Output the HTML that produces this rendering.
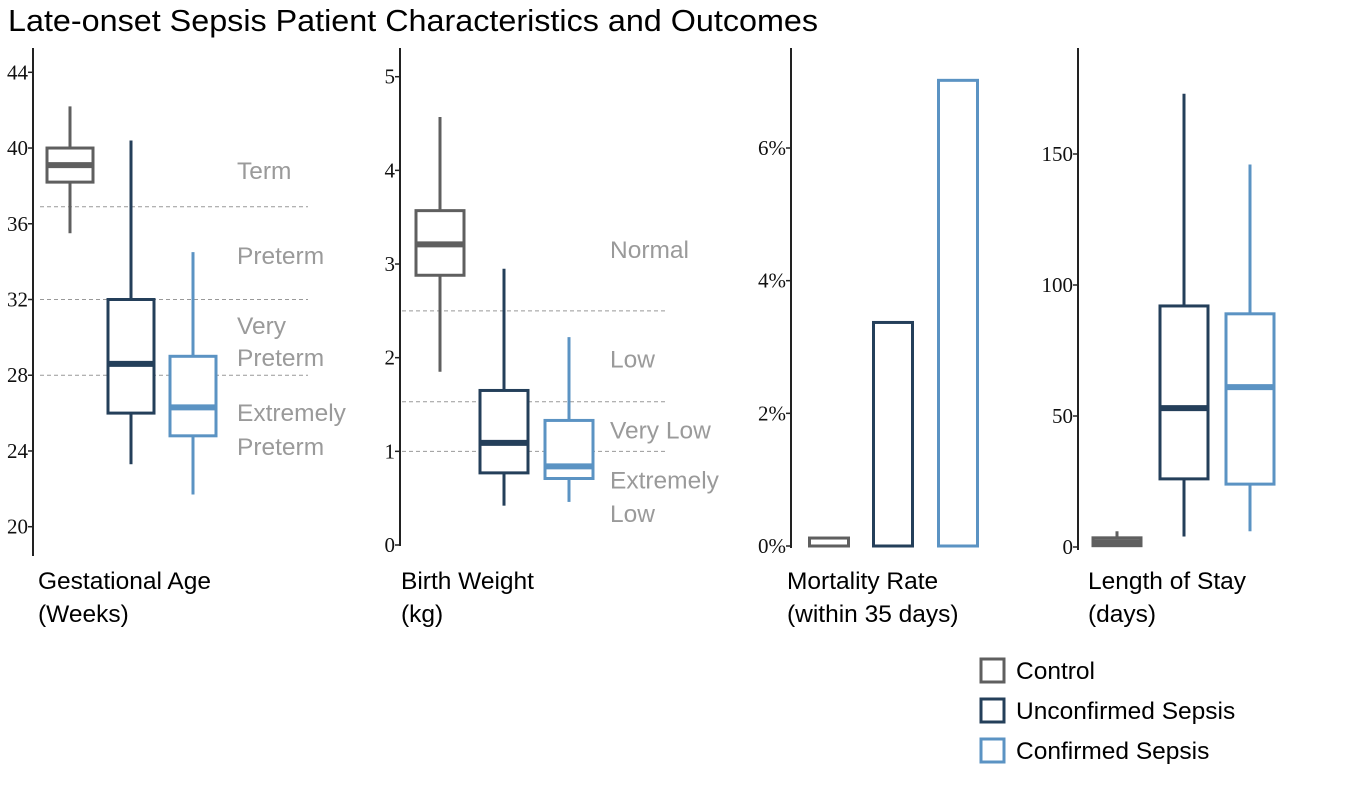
<!DOCTYPE html>
<html><head><meta charset="utf-8"><style>
body{margin:0;background:#fff;}
svg{display:block;font-family:"Liberation Sans",sans-serif;}
.tk{font-family:"Liberation Serif",serif;font-size:21px;fill:#111;}
.zone{font-size:24.5px;fill:#9a9a9a;}
.xt{font-size:24.5px;fill:#000;}
</style></head><body>
<svg id="c" width="1346" height="789">
<text x="8" y="31" font-size="31" fill="#000" textLength="810" lengthAdjust="spacingAndGlyphs">Late-onset Sepsis Patient Characteristics and Outcomes</text>
</svg>
<script>
const groups=["Control","Unconfirmed Sepsis","Confirmed Sepsis"];
const colors=["#5f5f5f","#243f5a","#5b93c3"];
// [whiskerLow, Q1, median, Q3, whiskerHigh]
const gaStats=[[35.5,38.2,39.1,40,42.2],[23.3,26,28.6,32,40.4],[21.7,24.8,26.3,29,34.5]];
const gaTicks=[20,24,28,32,36,40,44];
const gaCuts=[36.9,32,28];
const gaZones=[["Term",38.8],["Preterm",34.3],["Very",30.6],["Preterm",28.9],["Extremely",26.0],["Preterm",24.2]];
const bwStats=[[1.85,2.88,3.21,3.57,4.57],[0.42,0.77,1.09,1.65,2.95],[0.46,0.71,0.84,1.33,2.22]];
const bwTicks=[0,1,2,3,4,5];
const bwCuts=[2.5,1.53,1.0];
const bwZones=[["Normal",3.15],["Low",1.98],["Very Low",1.22],["Extremely",0.69],["Low",0.33]];
const mortality=[0.12,3.37,7.02];
const mortTicks=[0,2,4,6];
const losStats=[[0,0.5,1.8,3.5,6],[4,26,53,92,173],[6,24,61,89,146]];
const losTicks=[0,50,100,150];

const svg=document.getElementById('c');
const NS="http://www.w3.org/2000/svg";
function mk(tag,attrs,name){const e=document.createElementNS(NS,tag);for(const k in attrs)e.setAttribute(k,attrs[k]);


svg.appendChild(e);return e;}
function lin(d0,d1,r0,r1){return v=>r0+(v-d0)*(r1-r0)/(d1-d0);}

function axis(x,yTop,yBot,ticks,y,fmt,name){
  mk('line',{x1:x,y1:yTop,x2:x,y2:yBot,stroke:'#222','stroke-width':2},name+'-axis-line');
  ticks.forEach(t=>{
    mk('line',{x1:x-5,y1:y(t),x2:x,y2:y(t),stroke:'#222','stroke-width':1.5},name+'-tick');
    const tx=mk('text',{x:x-5,y:y(t)+7,'text-anchor':'end',class:'tk'},name+'-tick-label');tx.textContent=fmt(t);
  });
}
function boxes(stats,centers,hw,y,name){
  stats.forEach((s,i)=>{
    const c=colors[i],cx=centers[i];
    mk('line',{x1:cx,y1:y(s[0]),x2:cx,y2:y(s[1]),stroke:c,'stroke-width':3},name+'-whisker-low');
    mk('line',{x1:cx,y1:y(s[3]),x2:cx,y2:y(s[4]),stroke:c,'stroke-width':3},name+'-whisker-high');
    mk('rect',{x:cx-hw,y:y(s[3]),width:2*hw,height:Math.max(1,y(s[1])-y(s[3])),fill:'#fff',stroke:c,'stroke-width':3},name+'-box');
    mk('line',{x1:cx-hw,y1:y(s[2]),x2:cx+hw,y2:y(s[2]),stroke:c,'stroke-width':6},name+'-median');
  });
}
function cuts(vals,x1,x2,y,name){vals.forEach(v=>mk('line',{x1:x1,y1:y(v),x2:x2,y2:y(v),stroke:'#999','stroke-width':1,'stroke-dasharray':'4,3'},name+'-cutoff'));}
function zones(z,x,y,name){z.forEach(a=>{const t=mk('text',{x:x,y:y(a[1])+8,class:'zone'},name+'-zone-label');t.textContent=a[0];});}
function xtitle(x,l1,l2,name){const a=mk('text',{x:x,y:589,class:'xt'},name+'-title');a.textContent=l1;const b=mk('text',{x:x,y:622,class:'xt'},name+'-title');b.textContent=l2;}

// Panel 1
const y1=lin(44,20,72.3,526.7);
cuts(gaCuts,40,308,y1,'ga');
axis(33,48,556,gaTicks,y1,String,'ga');
boxes(gaStats,[70,131,193],23,y1,'ga');
zones(gaZones,237,y1,'ga');
xtitle(38,'Gestational Age','(Weeks)','ga');

// Panel 2
const y2=lin(5,0,76.7,545);
cuts(bwCuts,402,667,y2,'bw');
axis(400,48,546,bwTicks,y2,String,'bw');
boxes(bwStats,[440,504,569],24,y2,'bw');
zones(bwZones,610,y2,'bw');
xtitle(401,'Birth Weight','(kg)','bw');

// Panel 3
const y3=lin(0,6,546,148);
axis(791,48,548,mortTicks,y3,t=>t+'%','mort');
const bc=[829,893,958];
mortality.forEach((v,i)=>{
  mk('rect',{x:bc[i]-19.5,y:y3(v),width:39,height:y3(0)-y3(v),fill:'#fff',stroke:colors[i],'stroke-width':3},'mortality-bar');
});
xtitle(787,'Mortality Rate','(within 35 days)','mort');

// Panel 4
const y4=lin(0,150,547,154);
axis(1078,48,550,losTicks,y4,String,'los');
boxes(losStats,[1117,1184,1250],24,y4,'los');
xtitle(1088,'Length of Stay','(days)','los');

// Legend
groups.forEach((g,i)=>{
  const yy=659+i*40;
  mk('rect',{x:981,y:yy,width:23,height:23,fill:'#fff',stroke:colors[i],'stroke-width':3},'legend-swatch');
  const t=mk('text',{x:1016,y:yy+20,class:'xt'},'legend-entry');t.textContent=g;
});
</script>
</body></html>
